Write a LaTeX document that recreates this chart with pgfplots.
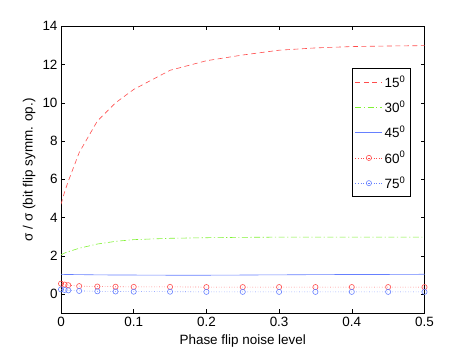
\documentclass[border=0pt]{standalone}
\usepackage{fontspec}
\setmainfont{Liberation Sans}
\usepackage{pgfplots}
\pgfplotsset{compat=1.18}

\definecolor{mred}{rgb}{1,0.3,0.3}
\definecolor{mgreen}{rgb}{0.5,0.95,0.2}
\definecolor{mblue}{rgb}{0.4,0.5,1}

\begin{document}
\begin{tikzpicture}
\useasboundingbox (0,0) rectangle (469bp,352bp);
\begin{axis}[
  anchor=south west, at={(61bp,38.7bp)},
  scale only axis,
  width=363.5bp, height=287bp,
  xmin=0, xmax=0.5,
  ymin=-1, ymax=14,
  xtick={0,0.1,0.2,0.3,0.4,0.5},
  xticklabels={0,0.1,0.2,0.3,0.4,0.5},
  ytick={0,2,4,6,8,10,12,14},
  tick align=inside,
  major tick length=4bp,
  tick style={black, line width=0.5pt},
  axis line style={line width=0.6pt},
  font=\fontsize{13.5}{15}\selectfont,
  /pgf/number format/assume math mode=true,
  xlabel={Phase flip noise level},
  ylabel={σ / σ (bit flip symm. op.)},
  xlabel style={at={(0.5,0)}, anchor=north, yshift=-18bp},
  ylabel style={at={(0,0.5)}, anchor=south, yshift=22bp},
  legend style={at={(0.962,0.854)}, anchor=north east, draw=black,
    line width=0.6pt, font=\fontsize{13.5}{15}\selectfont,
    row sep=8bp, inner xsep=3bp, inner ysep=5bp},
  legend cell align=left,
  legend image code/.code={
    \draw[mark repeat=2, mark phase=2, #1] plot coordinates {(0bp,0bp)(13.5bp,0bp)(27bp,0bp)};},
]
\addplot[mred, dash pattern=on 5bp off 3.5bp, line width=0.6pt] coordinates {
 (0,4.7)(0.005,5.35)(0.01,5.9)(0.025,7.4)(0.05,9.05)(0.075,10.0)(0.1,10.7)
 (0.15,11.7)(0.2,12.2)(0.25,12.5)(0.3,12.75)(0.35,12.87)(0.4,12.94)(0.45,12.97)(0.5,12.99)};
\addlegendentry{15\textsuperscript{0}}
\addplot[mgreen, dash pattern=on 6bp off 2.5bp on 1.2bp off 2.5bp, line width=0.6pt] coordinates {
 (0,2.05)(0.005,2.15)(0.01,2.22)(0.025,2.4)(0.05,2.62)(0.075,2.76)(0.1,2.85)
 (0.15,2.92)(0.2,2.95)(0.25,2.97)(0.3,2.98)(0.35,2.98)(0.4,2.98)(0.45,2.98)(0.5,2.98)};
\addlegendentry{30\textsuperscript{0}}
\addplot[mblue, solid, line width=0.6pt] coordinates {
 (0,1.04)(0.005,1.03)(0.01,1.03)(0.025,1.02)(0.05,1.01)(0.075,1.0)(0.1,1.0)
 (0.15,0.99)(0.2,0.99)(0.25,1.0)(0.3,1.01)(0.35,1.02)(0.4,1.03)(0.45,1.03)(0.5,1.04)};
\addlegendentry{45\textsuperscript{0}}
\addplot[mred, dotted, line width=0.6pt, mark=o, mark size=2.6bp, mark options={solid}] coordinates {
 (0,0.55)(0.005,0.5)(0.01,0.47)(0.025,0.42)(0.05,0.4)(0.075,0.39)(0.1,0.38)
 (0.15,0.38)(0.2,0.37)(0.25,0.37)(0.3,0.37)(0.35,0.37)(0.4,0.37)(0.45,0.37)(0.5,0.37)};
\addlegendentry{60\textsuperscript{0}}
\addplot[mblue, dotted, line width=0.6pt, mark=o, mark size=2.6bp, mark options={solid}] coordinates {
 (0,0.25)(0.005,0.22)(0.01,0.2)(0.025,0.17)(0.05,0.15)(0.075,0.14)(0.1,0.13)
 (0.15,0.13)(0.2,0.12)(0.25,0.12)(0.3,0.12)(0.35,0.12)(0.4,0.12)(0.45,0.12)(0.5,0.12)};
\addlegendentry{75\textsuperscript{0}}
\end{axis}
\end{tikzpicture}
\end{document}
